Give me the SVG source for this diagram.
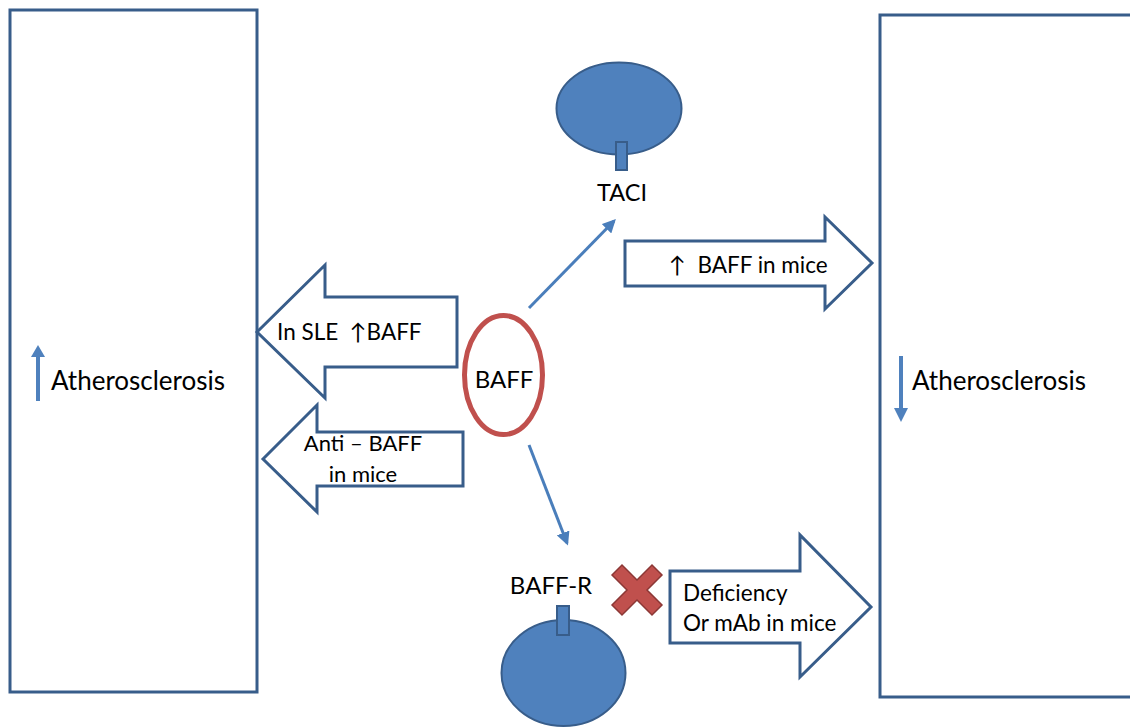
<svg xmlns="http://www.w3.org/2000/svg" width="1130" height="727" viewBox="0 0 1130 727">
<defs>
<style>
.box{fill:#fff;stroke:#385D8A;stroke-width:3}
.barrow{fill:#fff;stroke:#385D8A;stroke-width:3;stroke-linejoin:miter}
.cell{fill:#4F81BD;stroke:#385D8A;stroke-width:2}
.t{font-family:Lato,"Open Sans",sans-serif;fill:#000}
.conn{stroke:#4A7EBB;stroke-width:3;fill:none}
</style>
<marker id="ah" viewBox="0 0 10 10" refX="8" refY="5" markerWidth="4.5" markerHeight="4.5" orient="auto" markerUnits="strokeWidth">
<path d="M0,0 L10,5 L0,10 z" fill="#4A7EBB"/>
</marker>
</defs>
<rect width="1130" height="727" fill="#fff"/>

<g id="left-box">
<rect class="box" x="10" y="10" width="247" height="682"/>
<line x1="38" y1="401" x2="38" y2="354" stroke="#4F81BD" stroke-width="4"/>
<path d="M31,357 L38,345 L45,357 z" fill="#4F81BD"/>
<text class="t" x="51" y="390" font-size="26">Atherosclerosis</text>
</g>

<g id="right-box">
<rect class="box" x="880" y="15" width="260" height="682"/>
<line x1="901" y1="356" x2="901" y2="410" stroke="#4F81BD" stroke-width="4"/>
<path d="M894,408 L901,422 L908,408 z" fill="#4F81BD"/>
<text class="t" x="912" y="390" font-size="26">Atherosclerosis</text>
</g>

<g id="arrow-sle">
<path class="barrow" d="M257,332 L325,265 L325,297 L457,297 L457,367 L325,367 L325,398 z"/>
<text class="t" x="277" y="340" font-size="22.5" xml:space="preserve">In SLE  ↑BAFF</text>
</g>

<g id="arrow-anti">
<path class="barrow" d="M263,459 L317,405 L317,432 L463,432 L463,486 L317,486 L317,512 z"/>
<text class="t" x="363" y="451" font-size="22" text-anchor="middle">Anti – BAFF</text>
<text class="t" x="363" y="482" font-size="22" text-anchor="middle">in mice</text>
</g>

<g id="arrow-taci">
<path class="barrow" d="M625,241 L825,241 L825,217 L872,263 L825,309 L825,286 L625,286 z"/>
<text class="t" x="669" y="273" font-size="22.5" xml:space="preserve">↑  BAFF in mice</text>
</g>

<g id="arrow-deficiency">
<path class="barrow" d="M670,571 L800,571 L800,535 L871,607 L800,677 L800,643 L670,643 z"/>
<text class="t" x="683" y="601" font-size="22.5">Deficiency</text>
<text class="t" x="683" y="631" font-size="22.5">Or mAb in mice</text>
</g>

<g id="baff">
<ellipse cx="503.5" cy="375" rx="39" ry="59.5" fill="#fff" stroke="#C0504D" stroke-width="5"/>
<text class="t" x="504" y="388" font-size="24" text-anchor="middle">BAFF</text>
</g>

<g id="taci">
<ellipse class="cell" cx="619" cy="108.5" rx="62.5" ry="46"/>
<rect class="cell" x="616" y="142" width="11" height="28"/>
<text class="t" x="622" y="201" font-size="23.5" text-anchor="middle">TACI</text>
</g>

<g id="baff-r">
<ellipse class="cell" cx="563.5" cy="673" rx="62" ry="53"/>
<rect class="cell" x="557" y="606" width="12" height="29"/>
<text class="t" x="551" y="594" font-size="24" text-anchor="middle">BAFF-R</text>
</g>

<g id="block-x">
<path d="M612,575 L622,565 L637,580 L652,565 L662,575 L647,590 L662,605 L652,615 L637,600 L622,615 L612,605 L627,590 z" fill="#C0504D" stroke="#8C3836" stroke-width="1.5"/>
</g>

<g id="connectors">
<line class="conn" x1="529" y1="308" x2="614" y2="221" marker-end="url(#ah)"/>
<line class="conn" x1="529" y1="445" x2="567" y2="543" marker-end="url(#ah)"/>
</g>
</svg>
